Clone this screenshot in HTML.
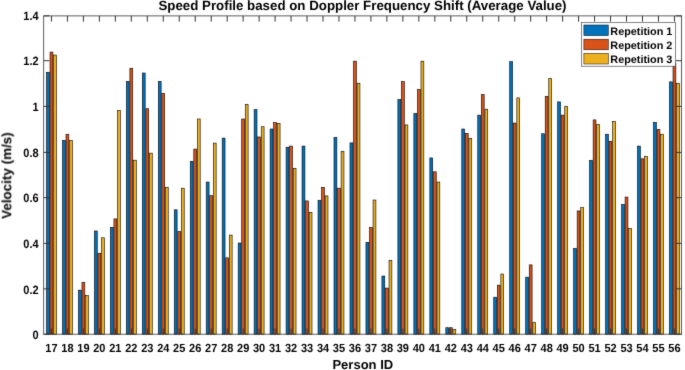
<!DOCTYPE html>
<html><head><meta charset="utf-8"><style>
html,body{margin:0;padding:0;background:#fff;width:685px;height:370px;overflow:hidden;}
body{position:relative;font-family:"Liberation Sans", sans-serif;}
text{text-rendering:geometricPrecision;}
</style></head><body>
<svg width="685" height="370" viewBox="0 0 685 370" style="position:absolute;left:0;top:0">
<defs><filter id="soft" filterUnits="userSpaceOnUse" x="0" y="0" width="685" height="370" color-interpolation-filters="sRGB"><feConvolveMatrix order="3" kernelMatrix="1 8 1 8 64 8 1 8 1" edgeMode="duplicate"/></filter></defs>
<g filter="url(#soft)">
<rect x="0" y="0" width="685" height="370" fill="#fff"/>
<g stroke="#000" stroke-width="0.6">
<rect x="46.48" y="72.33" width="2.84" height="261.87" fill="#0072BD"/>
<rect x="50.03" y="52.08" width="2.84" height="282.12" fill="#D95319"/>
<rect x="53.58" y="55.04" width="2.84" height="279.16" fill="#EDB120"/>
<rect x="62.45" y="140.39" width="2.84" height="193.81" fill="#0072BD"/>
<rect x="66.00" y="134.24" width="2.84" height="199.96" fill="#D95319"/>
<rect x="69.55" y="140.61" width="2.84" height="193.59" fill="#EDB120"/>
<rect x="78.43" y="290.15" width="2.84" height="44.05" fill="#0072BD"/>
<rect x="81.98" y="282.41" width="2.84" height="51.79" fill="#D95319"/>
<rect x="85.53" y="295.61" width="2.84" height="38.59" fill="#EDB120"/>
<rect x="94.40" y="230.97" width="2.84" height="103.23" fill="#0072BD"/>
<rect x="97.95" y="253.28" width="2.84" height="80.92" fill="#D95319"/>
<rect x="101.50" y="237.80" width="2.84" height="96.40" fill="#EDB120"/>
<rect x="110.38" y="227.33" width="2.84" height="106.87" fill="#0072BD"/>
<rect x="113.93" y="218.91" width="2.84" height="115.29" fill="#D95319"/>
<rect x="117.48" y="110.34" width="2.84" height="223.86" fill="#EDB120"/>
<rect x="126.35" y="81.44" width="2.84" height="252.76" fill="#0072BD"/>
<rect x="129.90" y="68.24" width="2.84" height="265.96" fill="#D95319"/>
<rect x="133.45" y="160.19" width="2.84" height="174.01" fill="#EDB120"/>
<rect x="142.32" y="73.02" width="2.84" height="261.18" fill="#0072BD"/>
<rect x="145.87" y="108.75" width="2.84" height="225.45" fill="#D95319"/>
<rect x="149.42" y="153.13" width="2.84" height="181.07" fill="#EDB120"/>
<rect x="158.30" y="81.44" width="2.84" height="252.76" fill="#0072BD"/>
<rect x="161.85" y="93.27" width="2.84" height="240.93" fill="#D95319"/>
<rect x="165.40" y="187.27" width="2.84" height="146.93" fill="#EDB120"/>
<rect x="174.27" y="209.81" width="2.84" height="124.39" fill="#0072BD"/>
<rect x="177.82" y="231.43" width="2.84" height="102.77" fill="#D95319"/>
<rect x="181.37" y="188.18" width="2.84" height="146.02" fill="#EDB120"/>
<rect x="190.25" y="161.33" width="2.84" height="172.87" fill="#0072BD"/>
<rect x="193.80" y="149.04" width="2.84" height="185.16" fill="#D95319"/>
<rect x="197.35" y="118.99" width="2.84" height="215.21" fill="#EDB120"/>
<rect x="206.22" y="182.04" width="2.84" height="152.16" fill="#0072BD"/>
<rect x="209.77" y="195.69" width="2.84" height="138.51" fill="#D95319"/>
<rect x="213.32" y="143.12" width="2.84" height="191.08" fill="#EDB120"/>
<rect x="222.19" y="138.11" width="2.84" height="196.09" fill="#0072BD"/>
<rect x="225.74" y="257.83" width="2.84" height="76.37" fill="#D95319"/>
<rect x="229.29" y="235.07" width="2.84" height="99.13" fill="#EDB120"/>
<rect x="238.17" y="243.03" width="2.84" height="91.17" fill="#0072BD"/>
<rect x="241.72" y="118.99" width="2.84" height="215.21" fill="#D95319"/>
<rect x="245.27" y="104.43" width="2.84" height="229.77" fill="#EDB120"/>
<rect x="254.14" y="109.66" width="2.84" height="224.54" fill="#0072BD"/>
<rect x="257.69" y="136.97" width="2.84" height="197.23" fill="#D95319"/>
<rect x="261.24" y="126.73" width="2.84" height="207.47" fill="#EDB120"/>
<rect x="270.12" y="129.01" width="2.84" height="205.19" fill="#0072BD"/>
<rect x="273.67" y="122.63" width="2.84" height="211.57" fill="#D95319"/>
<rect x="277.22" y="123.32" width="2.84" height="210.88" fill="#EDB120"/>
<rect x="286.09" y="147.22" width="2.84" height="186.98" fill="#0072BD"/>
<rect x="289.64" y="146.08" width="2.84" height="188.12" fill="#D95319"/>
<rect x="293.19" y="168.38" width="2.84" height="165.82" fill="#EDB120"/>
<rect x="302.06" y="146.08" width="2.84" height="188.12" fill="#0072BD"/>
<rect x="305.61" y="200.93" width="2.84" height="133.27" fill="#D95319"/>
<rect x="309.16" y="212.31" width="2.84" height="121.89" fill="#EDB120"/>
<rect x="318.04" y="200.25" width="2.84" height="133.95" fill="#0072BD"/>
<rect x="321.59" y="187.27" width="2.84" height="146.93" fill="#D95319"/>
<rect x="325.14" y="195.92" width="2.84" height="138.28" fill="#EDB120"/>
<rect x="334.01" y="137.43" width="2.84" height="196.77" fill="#0072BD"/>
<rect x="337.56" y="188.18" width="2.84" height="146.02" fill="#D95319"/>
<rect x="341.11" y="151.31" width="2.84" height="182.89" fill="#EDB120"/>
<rect x="349.99" y="142.89" width="2.84" height="191.31" fill="#0072BD"/>
<rect x="353.54" y="61.18" width="2.84" height="273.02" fill="#D95319"/>
<rect x="357.09" y="83.26" width="2.84" height="250.94" fill="#EDB120"/>
<rect x="365.96" y="242.35" width="2.84" height="91.85" fill="#0072BD"/>
<rect x="369.51" y="227.56" width="2.84" height="106.64" fill="#D95319"/>
<rect x="373.06" y="200.02" width="2.84" height="134.18" fill="#EDB120"/>
<rect x="381.93" y="276.04" width="2.84" height="58.16" fill="#0072BD"/>
<rect x="385.48" y="288.10" width="2.84" height="46.10" fill="#D95319"/>
<rect x="389.03" y="260.33" width="2.84" height="73.87" fill="#EDB120"/>
<rect x="397.91" y="99.65" width="2.84" height="234.55" fill="#0072BD"/>
<rect x="401.46" y="81.67" width="2.84" height="252.53" fill="#D95319"/>
<rect x="405.01" y="124.91" width="2.84" height="209.29" fill="#EDB120"/>
<rect x="413.88" y="113.53" width="2.84" height="220.67" fill="#0072BD"/>
<rect x="417.43" y="89.63" width="2.84" height="244.57" fill="#D95319"/>
<rect x="420.98" y="61.18" width="2.84" height="273.02" fill="#EDB120"/>
<rect x="429.86" y="157.91" width="2.84" height="176.29" fill="#0072BD"/>
<rect x="433.41" y="171.80" width="2.84" height="162.40" fill="#D95319"/>
<rect x="436.96" y="182.04" width="2.84" height="152.16" fill="#EDB120"/>
<rect x="445.83" y="327.70" width="2.84" height="6.50" fill="#0072BD"/>
<rect x="449.38" y="327.70" width="2.84" height="6.50" fill="#D95319"/>
<rect x="452.93" y="329.64" width="2.84" height="4.56" fill="#EDB120"/>
<rect x="461.80" y="129.01" width="2.84" height="205.19" fill="#0072BD"/>
<rect x="465.35" y="133.33" width="2.84" height="200.87" fill="#D95319"/>
<rect x="468.90" y="138.34" width="2.84" height="195.86" fill="#EDB120"/>
<rect x="477.78" y="115.12" width="2.84" height="219.08" fill="#0072BD"/>
<rect x="481.33" y="94.64" width="2.84" height="239.56" fill="#D95319"/>
<rect x="484.88" y="109.21" width="2.84" height="224.99" fill="#EDB120"/>
<rect x="493.75" y="297.20" width="2.84" height="37.00" fill="#0072BD"/>
<rect x="497.30" y="285.14" width="2.84" height="49.06" fill="#D95319"/>
<rect x="500.85" y="273.99" width="2.84" height="60.21" fill="#EDB120"/>
<rect x="509.73" y="61.64" width="2.84" height="272.56" fill="#0072BD"/>
<rect x="513.28" y="123.09" width="2.84" height="211.11" fill="#D95319"/>
<rect x="516.83" y="97.83" width="2.84" height="236.37" fill="#EDB120"/>
<rect x="525.70" y="277.17" width="2.84" height="57.03" fill="#0072BD"/>
<rect x="529.25" y="264.88" width="2.84" height="69.32" fill="#D95319"/>
<rect x="532.80" y="322.47" width="2.84" height="11.73" fill="#EDB120"/>
<rect x="541.67" y="133.79" width="2.84" height="200.41" fill="#0072BD"/>
<rect x="545.22" y="96.46" width="2.84" height="237.74" fill="#D95319"/>
<rect x="548.77" y="78.48" width="2.84" height="255.72" fill="#EDB120"/>
<rect x="557.65" y="101.92" width="2.84" height="232.28" fill="#0072BD"/>
<rect x="561.20" y="115.12" width="2.84" height="219.08" fill="#D95319"/>
<rect x="564.75" y="106.25" width="2.84" height="227.95" fill="#EDB120"/>
<rect x="573.62" y="248.50" width="2.84" height="85.70" fill="#0072BD"/>
<rect x="577.17" y="210.94" width="2.84" height="123.26" fill="#D95319"/>
<rect x="580.72" y="207.30" width="2.84" height="126.90" fill="#EDB120"/>
<rect x="589.60" y="160.42" width="2.84" height="173.78" fill="#0072BD"/>
<rect x="593.15" y="119.90" width="2.84" height="214.30" fill="#D95319"/>
<rect x="596.70" y="124.46" width="2.84" height="209.74" fill="#EDB120"/>
<rect x="605.57" y="134.24" width="2.84" height="199.96" fill="#0072BD"/>
<rect x="609.12" y="141.30" width="2.84" height="192.90" fill="#D95319"/>
<rect x="612.67" y="121.50" width="2.84" height="212.70" fill="#EDB120"/>
<rect x="621.54" y="204.57" width="2.84" height="129.63" fill="#0072BD"/>
<rect x="625.09" y="197.06" width="2.84" height="137.14" fill="#D95319"/>
<rect x="628.64" y="228.47" width="2.84" height="105.73" fill="#EDB120"/>
<rect x="637.52" y="146.08" width="2.84" height="188.12" fill="#0072BD"/>
<rect x="641.07" y="158.82" width="2.84" height="175.38" fill="#D95319"/>
<rect x="644.62" y="156.32" width="2.84" height="177.88" fill="#EDB120"/>
<rect x="653.49" y="122.41" width="2.84" height="211.79" fill="#0072BD"/>
<rect x="657.04" y="129.46" width="2.84" height="204.74" fill="#D95319"/>
<rect x="660.59" y="134.24" width="2.84" height="199.96" fill="#EDB120"/>
<rect x="669.47" y="81.89" width="2.84" height="252.31" fill="#0072BD"/>
<rect x="673.02" y="63.69" width="2.84" height="270.51" fill="#D95319"/>
<rect x="676.57" y="83.26" width="2.84" height="250.94" fill="#EDB120"/>
</g>
<path d="M51.45 334.2V328.50M51.45 15.9V21.60M67.42 334.2V328.50M67.42 15.9V21.60M83.40 334.2V328.50M83.40 15.9V21.60M99.37 334.2V328.50M99.37 15.9V21.60M115.35 334.2V328.50M115.35 15.9V21.60M131.32 334.2V328.50M131.32 15.9V21.60M147.29 334.2V328.50M147.29 15.9V21.60M163.27 334.2V328.50M163.27 15.9V21.60M179.24 334.2V328.50M179.24 15.9V21.60M195.22 334.2V328.50M195.22 15.9V21.60M211.19 334.2V328.50M211.19 15.9V21.60M227.16 334.2V328.50M227.16 15.9V21.60M243.14 334.2V328.50M243.14 15.9V21.60M259.11 334.2V328.50M259.11 15.9V21.60M275.09 334.2V328.50M275.09 15.9V21.60M291.06 334.2V328.50M291.06 15.9V21.60M307.03 334.2V328.50M307.03 15.9V21.60M323.01 334.2V328.50M323.01 15.9V21.60M338.98 334.2V328.50M338.98 15.9V21.60M354.96 334.2V328.50M354.96 15.9V21.60M370.93 334.2V328.50M370.93 15.9V21.60M386.90 334.2V328.50M386.90 15.9V21.60M402.88 334.2V328.50M402.88 15.9V21.60M418.85 334.2V328.50M418.85 15.9V21.60M434.83 334.2V328.50M434.83 15.9V21.60M450.80 334.2V328.50M450.80 15.9V21.60M466.77 334.2V328.50M466.77 15.9V21.60M482.75 334.2V328.50M482.75 15.9V21.60M498.72 334.2V328.50M498.72 15.9V21.60M514.70 334.2V328.50M514.70 15.9V21.60M530.67 334.2V328.50M530.67 15.9V21.60M546.64 334.2V328.50M546.64 15.9V21.60M562.62 334.2V328.50M562.62 15.9V21.60M578.59 334.2V328.50M578.59 15.9V21.60M594.57 334.2V328.50M594.57 15.9V21.60M610.54 334.2V328.50M610.54 15.9V21.60M626.51 334.2V328.50M626.51 15.9V21.60M642.49 334.2V328.50M642.49 15.9V21.60M658.46 334.2V328.50M658.46 15.9V21.60M674.44 334.2V328.50M674.44 15.9V21.60M43.7 334.25H49.40M681.6 334.25H675.90M43.7 288.85H49.40M681.6 288.85H675.90M43.7 243.40H49.40M681.6 243.40H675.90M43.7 197.65H49.40M681.6 197.65H675.90M43.7 152.40H49.40M681.6 152.40H675.90M43.7 106.40H49.40M681.6 106.40H675.90M43.7 60.70H49.40M681.6 60.70H675.90M43.7 15.85H49.40M681.6 15.85H675.90" stroke="#333" stroke-width="1" fill="none"/>
<rect x="43.7" y="15.9" width="637.90" height="318.30" stroke="#333" stroke-width="0.8" fill="none"/>
<g font-family='"Liberation Sans", sans-serif' font-weight="bold" font-size="11" fill="#000">
<text transform="translate(51.45 351.6) scale(1 1.07)" text-anchor="middle">17</text>
<text transform="translate(67.42 351.6) scale(1 1.07)" text-anchor="middle">18</text>
<text transform="translate(83.40 351.6) scale(1 1.07)" text-anchor="middle">19</text>
<text transform="translate(99.37 351.6) scale(1 1.07)" text-anchor="middle">20</text>
<text transform="translate(115.35 351.6) scale(1 1.07)" text-anchor="middle">21</text>
<text transform="translate(131.32 351.6) scale(1 1.07)" text-anchor="middle">22</text>
<text transform="translate(147.29 351.6) scale(1 1.07)" text-anchor="middle">23</text>
<text transform="translate(163.27 351.6) scale(1 1.07)" text-anchor="middle">24</text>
<text transform="translate(179.24 351.6) scale(1 1.07)" text-anchor="middle">25</text>
<text transform="translate(195.22 351.6) scale(1 1.07)" text-anchor="middle">26</text>
<text transform="translate(211.19 351.6) scale(1 1.07)" text-anchor="middle">27</text>
<text transform="translate(227.16 351.6) scale(1 1.07)" text-anchor="middle">28</text>
<text transform="translate(243.14 351.6) scale(1 1.07)" text-anchor="middle">29</text>
<text transform="translate(259.11 351.6) scale(1 1.07)" text-anchor="middle">30</text>
<text transform="translate(275.09 351.6) scale(1 1.07)" text-anchor="middle">31</text>
<text transform="translate(291.06 351.6) scale(1 1.07)" text-anchor="middle">32</text>
<text transform="translate(307.03 351.6) scale(1 1.07)" text-anchor="middle">33</text>
<text transform="translate(323.01 351.6) scale(1 1.07)" text-anchor="middle">34</text>
<text transform="translate(338.98 351.6) scale(1 1.07)" text-anchor="middle">35</text>
<text transform="translate(354.96 351.6) scale(1 1.07)" text-anchor="middle">36</text>
<text transform="translate(370.93 351.6) scale(1 1.07)" text-anchor="middle">37</text>
<text transform="translate(386.90 351.6) scale(1 1.07)" text-anchor="middle">38</text>
<text transform="translate(402.88 351.6) scale(1 1.07)" text-anchor="middle">39</text>
<text transform="translate(418.85 351.6) scale(1 1.07)" text-anchor="middle">40</text>
<text transform="translate(434.83 351.6) scale(1 1.07)" text-anchor="middle">41</text>
<text transform="translate(450.80 351.6) scale(1 1.07)" text-anchor="middle">42</text>
<text transform="translate(466.77 351.6) scale(1 1.07)" text-anchor="middle">43</text>
<text transform="translate(482.75 351.6) scale(1 1.07)" text-anchor="middle">44</text>
<text transform="translate(498.72 351.6) scale(1 1.07)" text-anchor="middle">45</text>
<text transform="translate(514.70 351.6) scale(1 1.07)" text-anchor="middle">46</text>
<text transform="translate(530.67 351.6) scale(1 1.07)" text-anchor="middle">47</text>
<text transform="translate(546.64 351.6) scale(1 1.07)" text-anchor="middle">48</text>
<text transform="translate(562.62 351.6) scale(1 1.07)" text-anchor="middle">49</text>
<text transform="translate(578.59 351.6) scale(1 1.07)" text-anchor="middle">50</text>
<text transform="translate(594.57 351.6) scale(1 1.07)" text-anchor="middle">51</text>
<text transform="translate(610.54 351.6) scale(1 1.07)" text-anchor="middle">52</text>
<text transform="translate(626.51 351.6) scale(1 1.07)" text-anchor="middle">53</text>
<text transform="translate(642.49 351.6) scale(1 1.07)" text-anchor="middle">54</text>
<text transform="translate(658.46 351.6) scale(1 1.07)" text-anchor="middle">55</text>
<text transform="translate(674.44 351.6) scale(1 1.07)" text-anchor="middle">56</text>
<text transform="translate(38.6 338.95) scale(1 1.1)" text-anchor="end">0</text>
<text transform="translate(38.6 293.55) scale(1 1.1)" text-anchor="end">0.2</text>
<text transform="translate(38.6 248.20) scale(1 1.1)" text-anchor="end">0.4</text>
<text transform="translate(38.6 202.45) scale(1 1.1)" text-anchor="end">0.6</text>
<text transform="translate(38.6 157.20) scale(1 1.1)" text-anchor="end">0.8</text>
<text transform="translate(38.6 111.20) scale(1 1.1)" text-anchor="end">1</text>
<text transform="translate(38.6 65.30) scale(1 1.1)" text-anchor="end">1.2</text>
<text transform="translate(38.6 20.25) scale(1 1.1)" text-anchor="end">1.4</text>
</g>
<text x="362.5" y="9.6" text-anchor="middle" font-family='"Liberation Sans", sans-serif' font-weight="bold" font-size="13.3" fill="#000">Speed Profile based on Doppler Frequency Shift (Average Value)</text>
<text x="362.8" y="368.5" text-anchor="middle" font-family='"Liberation Sans", sans-serif' font-weight="bold" font-size="13" fill="#000">Person ID</text>
<text transform="translate(11.2 175.6) rotate(-90)" x="0" y="0" text-anchor="middle" font-family='"Liberation Sans", sans-serif' font-weight="bold" font-size="13.45" fill="#000">Velocity (m/s)</text>
<rect x="581.4" y="22.6" width="94.0" height="43.6" fill="#fff" stroke="#333" stroke-width="0.6"/>
<rect x="583.9" y="25.00" width="24.4" height="10.6" fill="#0072BD" stroke="#000" stroke-width="0.5"/>
<text x="610.3" y="34.70" font-family='"Liberation Sans", sans-serif' font-weight="bold" font-size="10.85" fill="#000">Repetition 1</text>
<rect x="583.9" y="39.20" width="24.4" height="10.6" fill="#D95319" stroke="#000" stroke-width="0.5"/>
<text x="610.3" y="48.90" font-family='"Liberation Sans", sans-serif' font-weight="bold" font-size="10.85" fill="#000">Repetition 2</text>
<rect x="583.9" y="53.40" width="24.4" height="10.6" fill="#EDB120" stroke="#000" stroke-width="0.5"/>
<text x="610.3" y="63.10" font-family='"Liberation Sans", sans-serif' font-weight="bold" font-size="10.85" fill="#000">Repetition 3</text>
</g>
</svg>
</body></html>
